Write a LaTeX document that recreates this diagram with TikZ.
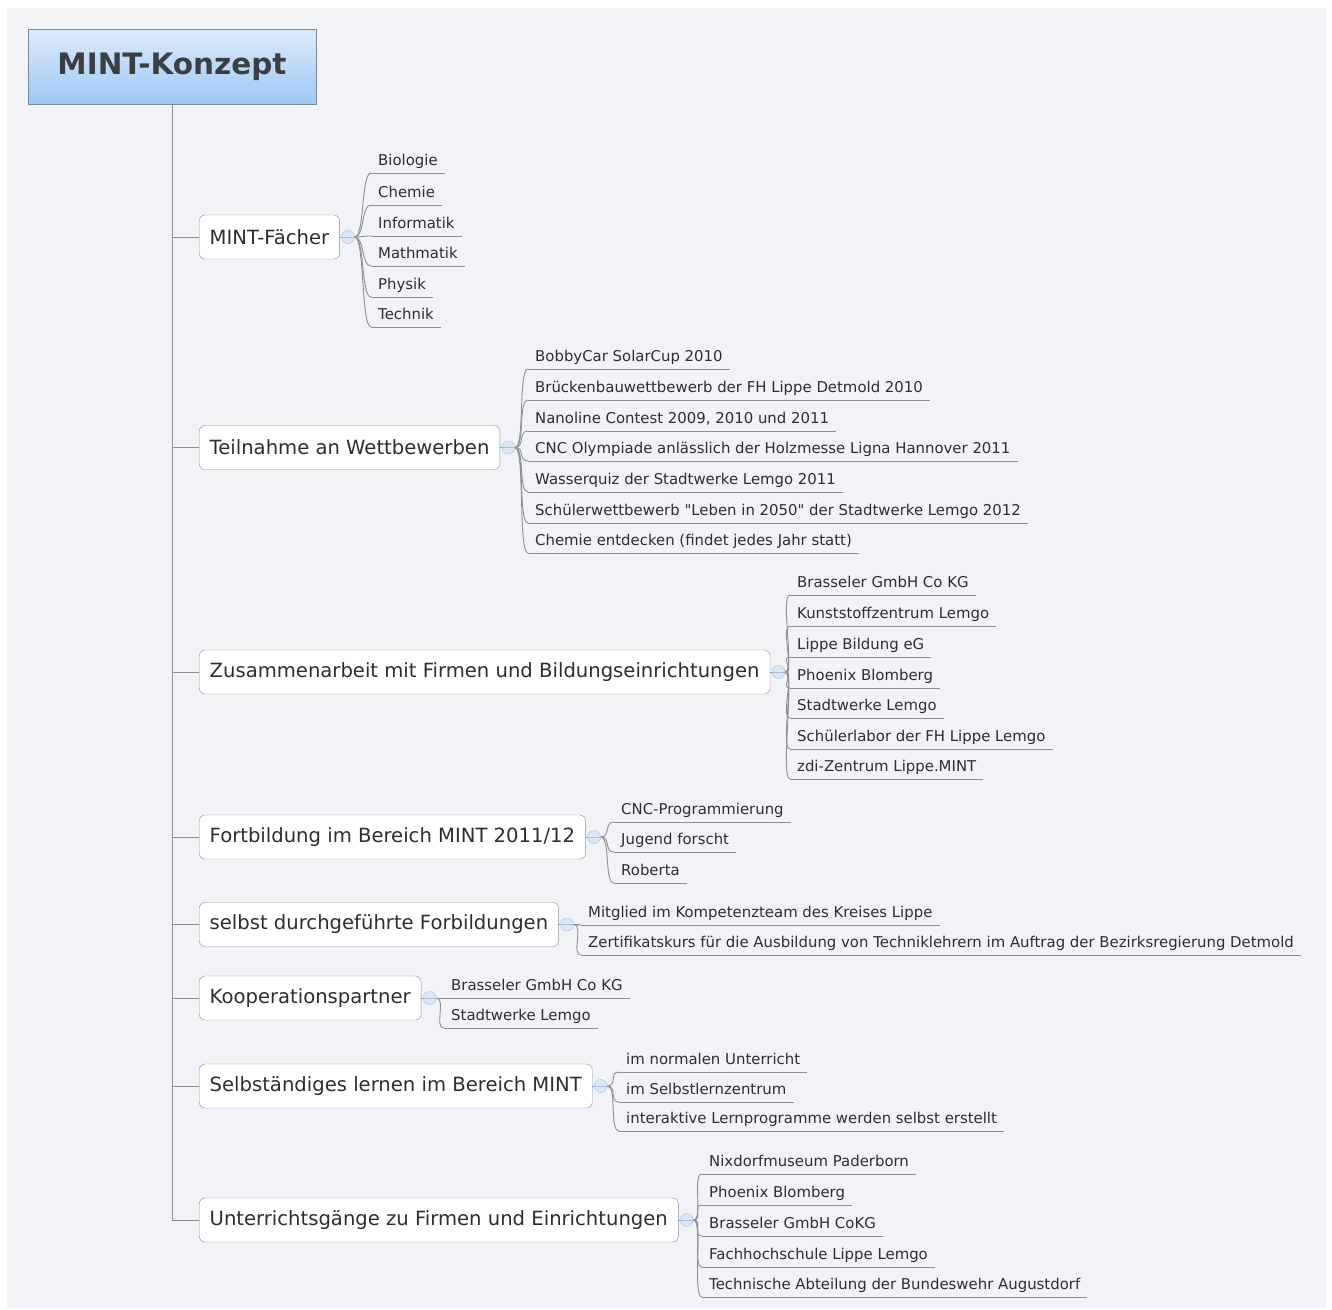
\documentclass[tikz,border=0pt]{standalone}
\usepackage{fontspec}
\setmainfont{DejaVu Sans}
\usetikzlibrary{positioning}

\newcommand{\dq}{\XeTeXglyph\XeTeXcharglyph34\relax} % straight quote

\definecolor{paper}{HTML}{F2F3F7}
\definecolor{wire}{HTML}{8E9093}
\definecolor{ink}{HTML}{2E2E2E}
\definecolor{rootink}{HTML}{3A3F44}
\definecolor{rootedge}{HTML}{7E8A96}
\definecolor{roottop}{HTML}{DDEBFB}
\definecolor{rootbot}{HTML}{9CC8F4}
\definecolor{knob}{HTML}{DCE7F6}
\definecolor{knobedge}{HTML}{A6BEDD}

\tikzset{
 link/.style={draw=wire, line width=0.9},
 root/.style={draw=rootedge, top color=roottop, bottom color=rootbot,
   minimum width=288, minimum height=75,
   font=\fontsize{29.5}{31}\selectfont\bfseries, text=rootink},
 topic/.style={draw=wire, fill=white, rounded corners=6, anchor=west,
   minimum height=44, inner xsep=10.5,
   font=\fontsize{19.6}{22}\selectfont, text=ink},
 knob/.style={circle, draw=knobedge, fill=knob, minimum size=13, inner sep=0,
   path picture={\draw[knobedge] (path picture bounding box.west)
     -- (path picture bounding box.east);}},
 leaf/.style={anchor=south west, inner xsep=7, inner ysep=3,
   text height=11, text depth=4,
   font=\fontsize{14.9}{17}\selectfont, text=ink,
   append after command={(\tikzlastnode.south west) edge[link]
     (\tikzlastnode.south east)}}
}

\begin{document}
\begin{tikzpicture}[x=1pt,y=-1pt]

\newcommand{\twigs}[3] % [topic][x][y/text list]
{
 \foreach \y/\t [count=\nr] in {#3}
 {
  \node[leaf] (#1-\nr) at (#2,\y) {\t};
  \draw[link] (#1-k.east) .. controls +(10,0) and +(-10,0) .. (#1-\nr.south west);
 }
}

\useasboundingbox (0,0) rectangle (1332,1309);
\fill[paper] (7,8) rectangle (1326,1308);

\node[root] (root) at (172,66.5) {MINT-Konzept};

% topics
\node[topic] (faecher) at (199,237) {MINT-Fächer};
\node[topic] (wettb) at (199,447.5) {Teilnahme an Wettbewerben};
\node[topic] (firmen) at (199,672) {Zusammenarbeit mit Firmen und Bildungseinrichtungen};
\node[topic] (fortb) at (199,837) {Fortbildung im Bereich MINT 2011/12};
\node[topic] (selbst) at (199,924.5) {selbst durchgeführte Forbildungen};
\node[topic] (koop) at (199,998) {Kooperationspartner};
\node[topic] (lernen) at (199,1086) {Selbständiges lernen im Bereich MINT};
\node[topic] (gaenge) at (199,1220) {Unterrichtsgänge zu Firmen und Einrichtungen};

\foreach \t in {faecher,wettb,firmen,fortb,selbst,koop,lernen,gaenge}
{
 \draw[link] (root.south) |- (\t.west);
 \node[knob, right=1.5pt of \t] (\t-k) {};
 \draw[link] (\t.east) -- (\t-k.west);
}

% leaves
\twigs{faecher}{371}{173/Biologie, 205/Chemie, 236/Informatik,
 266/Mathmatik, 297/Physik, 327/Technik}

\twigs{wettb}{528}{369/BobbyCar SolarCup 2010,
 400/Brückenbauwettbewerb der FH Lippe Detmold 2010,
 431/{Nanoline Contest 2009, 2010 und 2011},
 461/CNC Olympiade anlässlich der Holzmesse Ligna Hannover 2011,
 492/Wasserquiz der Stadtwerke Lemgo 2011,
 523/Schülerwettbewerb \dq Leben in 2050\dq{} der Stadtwerke Lemgo 2012,
 553/Chemie entdecken (findet jedes Jahr statt)}

\twigs{firmen}{790}{595/Brasseler GmbH Co KG, 626/Kunststoffzentrum Lemgo,
 657/Lippe Bildung eG, 688/Phoenix Blomberg, 718/Stadtwerke Lemgo,
 749/Schülerlabor der FH Lippe Lemgo, 779/zdi-Zentrum Lippe.MINT}

\twigs{fortb}{614}{822/CNC-Programmierung, 852/Jugend forscht, 883/Roberta}

\twigs{selbst}{581}{925/Mitglied im Kompetenzteam des Kreises Lippe,
 955/Zertifikatskurs für die Ausbildung von Techniklehrern im Auftrag der Bezirksregierung Detmold}

\twigs{koop}{444}{998/Brasseler GmbH Co KG, 1028/Stadtwerke Lemgo}

\twigs{lernen}{619}{1072/im normalen Unterricht, 1102/im Selbstlernzentrum,
 1131/interaktive Lernprogramme werden selbst erstellt}

\twigs{gaenge}{702}{1174/Nixdorfmuseum Paderborn, 1205/Phoenix Blomberg,
 1236/Brasseler GmbH CoKG, 1267/Fachhochschule Lippe Lemgo,
 1297/Technische Abteilung der Bundeswehr Augustdorf}

\end{tikzpicture}
\end{document}
